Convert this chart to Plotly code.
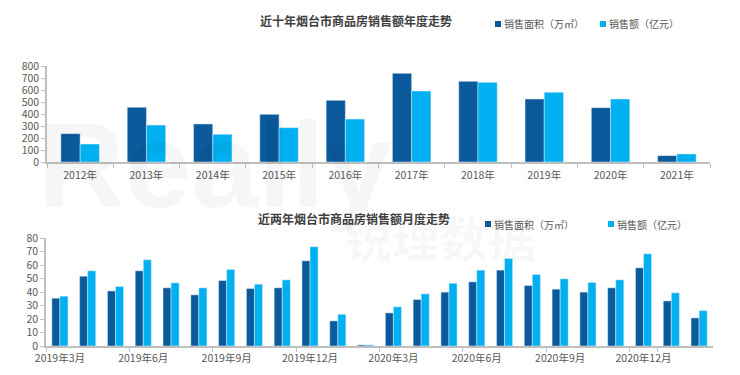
import plotly.graph_objects as go

# ---- data ----
years = ["2012年", "2013年", "2014年", "2015年", "2016年",
         "2017年", "2018年", "2019年", "2020年", "2021年"]
year_area = [236, 456, 317, 397, 514, 739, 672, 525, 453, 53]
year_amount = [150, 308, 231, 286, 358, 592, 664, 581, 525, 67]

months = ["2019年3月", "2019年4月", "2019年5月", "2019年6月", "2019年7月", "2019年8月",
          "2019年9月", "2019年10月", "2019年11月", "2019年12月", "2020年1月", "2020年2月",
          "2020年3月", "2020年4月", "2020年5月", "2020年6月", "2020年7月", "2020年8月",
          "2020年9月", "2020年10月", "2020年11月", "2020年12月", "2021年1月", "2021年2月"]
month_area = [35.4, 51.7, 40.8, 55.7, 43.1, 37.9, 48.5, 42.6, 43.1, 63.1, 18.6, 0.8,
              24.5, 34.4, 39.9, 47.5, 56.2, 44.8, 42.1, 39.9, 43.1, 57.9, 33.4, 20.8]
month_amount = [36.9, 55.7, 44.1, 63.9, 46.8, 43.1, 56.7, 45.8, 49.0, 73.5, 23.5, 0.8,
                29.0, 38.6, 46.5, 56.2, 64.9, 53.0, 49.8, 47.0, 49.0, 68.3, 39.4, 26.2]
month_ticks = ["2019年3月", "2019年6月", "2019年9月", "2019年12月",
               "2020年3月", "2020年6月", "2020年9月", "2020年12月"]

name_area = "销售面积（万㎡）"
name_amount = "销售额（亿元）"
title_top = "近十年烟台市商品房销售额年度走势"
title_bottom = "近两年烟台市商品房销售额月度走势"

DARK = "#0A5A9C"
LIGHT = "#00B0F0"
FONT = "Noto Sans CJK SC"
AXIS = "#BFBFBF"
TXT = "#595959"

fig = go.Figure()
fig.add_trace(go.Bar(x=years, y=year_area, name=name_area, marker_color=DARK,
                     xaxis="x", yaxis="y", showlegend=False))
fig.add_trace(go.Bar(x=years, y=year_amount, name=name_amount, marker_color=LIGHT,
                     xaxis="x", yaxis="y", showlegend=False))
fig.add_trace(go.Bar(x=months, y=month_area, name=name_area, marker_color=DARK,
                     xaxis="x2", yaxis="y2", showlegend=False))
fig.add_trace(go.Bar(x=months, y=month_amount, name=name_amount, marker_color=LIGHT,
                     xaxis="x2", yaxis="y2", showlegend=False))

# page body has an 8px margin, so the figure is placed at (8, 8) in the window
OFF = 8
W, H = 740 - OFF, 375 - OFF


def px(x):
    return (x - OFF) / W


def py(y):
    return 1 - (y - OFF) / H


axis_common = dict(showgrid=False, zeroline=False, showline=True, linecolor=AXIS,
                   linewidth=1.5, ticks="outside", tickcolor=AXIS, ticklen=4,
                   automargin=False, tickangle=0,
                   tickfont=dict(family=FONT, size=10.5, color=TXT), fixedrange=True)

annotations = [
    dict(text="<b>Really</b>", x=px(215), y=py(165), xref="paper", yref="paper",
         showarrow=False, xanchor="center", yanchor="middle",
         font=dict(family="Liberation Sans", size=120, color="rgba(0,0,0,0.035)")),
    dict(text="<b>锐理数据</b>", x=px(440), y=py(236), xref="paper", yref="paper",
         showarrow=False, xanchor="center", yanchor="middle",
         font=dict(family=FONT, size=48, color="rgba(0,0,0,0.035)")),
    dict(text="<b>" + title_top + "</b>", x=px(356), y=py(20), xref="paper",
         yref="paper", showarrow=False, xanchor="center", yanchor="middle",
         font=dict(family=FONT, size=12, color="#404040")),
    dict(text="<b>" + title_bottom + "</b>", x=px(354), y=py(218), xref="paper",
         yref="paper", showarrow=False, xanchor="center", yanchor="middle",
         font=dict(family=FONT, size=12, color="#404040")),
]
shapes = []

# hand-placed legends: (marker left x, centre y, label, colour)
legend_items = [
    (495, 24, name_area, DARK), (600, 24, name_amount, LIGHT),
    (485, 224, name_area, DARK), (608, 224, name_amount, LIGHT),
]
for lx, ly, label, col in legend_items:
    shapes.append(dict(type="rect", xref="paper", yref="paper",
                       x0=px(lx), x1=px(lx + 6), y0=py(ly + 3), y1=py(ly - 3),
                       fillcolor=col, line=dict(width=0)))
    annotations.append(dict(text=label, x=px(lx + 7), y=py(ly), xref="paper",
                            yref="paper", showarrow=False, xanchor="left",
                            yanchor="middle",
                            font=dict(family=FONT, size=10, color=TXT)))

fig.update_layout(
    width=W, height=H,
    margin=dict(l=0, r=0, t=0, b=0, autoexpand=False),
    paper_bgcolor="white", plot_bgcolor="rgba(0,0,0,0)",
    barmode="group", bargap=0.42, bargroupgap=0,
    font=dict(family=FONT, color=TXT),
    xaxis=dict(domain=[px(47), px(710)], anchor="y", type="category",
               tickson="boundaries", ticklabelstandoff=3, **axis_common),
    yaxis=dict(domain=[py(162), py(66)], anchor="x", range=[0, 800], dtick=100,
               **axis_common),
    xaxis2=dict(domain=[px(46), px(713)], anchor="y2", type="category",
                tickson="boundaries", tickvals=month_ticks, ticktext=month_ticks,
                ticklabelstandoff=2, **axis_common),
    yaxis2=dict(domain=[py(346), py(238)], anchor="x2", range=[0, 80], dtick=10,
                **axis_common),
    showlegend=False,
    annotations=annotations,
    shapes=shapes,
)

fig.write_html("out.html")
